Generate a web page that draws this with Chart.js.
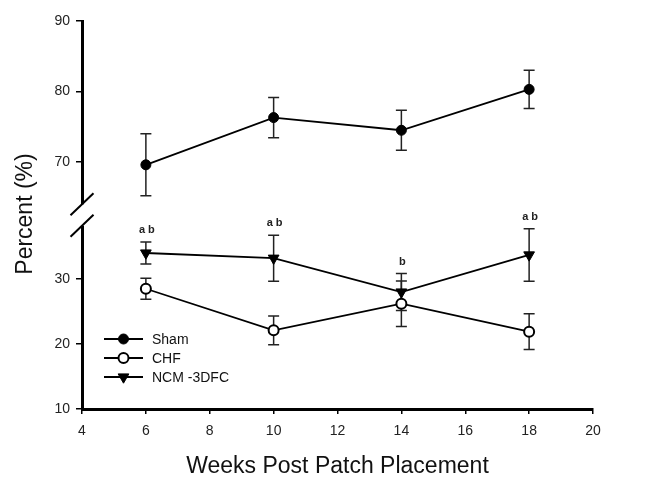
<!DOCTYPE html>
<html lang="en">
<head>
<meta charset="utf-8">
<title>Percent vs Weeks Post Patch Placement</title>
<script src="https://cdn.jsdelivr.net/npm/chart.js@4.4.1/dist/chart.umd.min.js"></script>
<style>
  html, body { margin: 0; padding: 0; background: #fff; }
</style>
</head>
<body>
<canvas id="mycanvas" width="647" height="478"></canvas>
<script>
// data
const weeks      = [6, 10, 14, 18];
const shamMean   = [69.6, 76.3, 74.5, 80.3];
const shamErr    = [4.4, 2.85, 2.85, 2.7];
const chfMean    = [28.5, 22.1, 26.2, 21.9];
const chfErr     = [1.6, 2.2, 3.5, 2.75];
const ncmMean    = [34.0, 33.2, 28.0, 33.7];
const ncmErr     = [1.7, 3.55, 2.85, 4.05];
const sigLabels  = ['a b', 'a b', 'b', 'a b'];   // over NCM-3DFC
const seriesNames = ['Sham', 'CHF', 'NCM -3DFC'];
const xTicks     = [4, 6, 8, 10, 12, 14, 16, 18, 20];
const upperTicks = [70, 80, 90];
const lowerTicks = [10, 20, 30];

const FONT = "'Liberation Sans', Arial, sans-serif";
const errSets = [shamErr, chfErr, ncmErr];

function pts(means) { return weeks.map((w, i) => ({x: w, y: means[i]})); }

// error bars, drawn under the markers
const errorBars = {
  id: 'errorBars',
  beforeDatasetsDraw(chart) {
    const ctx = chart.ctx, xs = chart.scales.x;
    ctx.save();
    ctx.strokeStyle = '#222';
    ctx.lineWidth = 1.5;
    chart.data.datasets.forEach((ds, k) => {
      const ys = chart.scales[ds.yAxisID];
      errSets[k].forEach((e, i) => {
        const px = xs.getPixelForValue(ds.data[i].x);
        const t = ys.getPixelForValue(ds.data[i].y + e);
        const b = ys.getPixelForValue(ds.data[i].y - e);
        ctx.beginPath();
        ctx.moveTo(px, t); ctx.lineTo(px, b);
        ctx.moveTo(px - 5.5, t); ctx.lineTo(px + 5.5, t);
        ctx.moveTo(px - 5.5, b); ctx.lineTo(px + 5.5, b);
        ctx.stroke();
      });
    });
    ctx.restore();
  },
  afterDatasetsDraw(chart) {
    // significance letters over NCM
    const ctx = chart.ctx, xs = chart.scales.x, ys = chart.scales.yBot;
    ctx.save();
    ctx.fillStyle = '#222';
    ctx.font = 'bold 11px ' + FONT;
    ctx.textAlign = 'center';
    ctx.textBaseline = 'middle';
    sigLabels.forEach((s, i) => {
      const px = xs.getPixelForValue(weeks[i]);
      const py = ys.getPixelForValue(ncmMean[i] + ncmErr[i]) - 12;
      ctx.fillText(s, px + 1, py);
    });
    ctx.restore();
  }
};

// axis break, y title and legend
const extras = {
  id: 'extras',
  afterDraw(chart) {
    const ctx = chart.ctx;
    const yT = chart.scales.yTop, yB = chart.scales.yBot;
    const ax = chart.chartArea.left;
    const upEnd = yT.getPixelForValue(64.0);
    const loStart = yB.getPixelForValue(38.2);
    ctx.save();
    ctx.fillStyle = '#fff';
    ctx.fillRect(ax - 4, upEnd, 8, loStart - upEnd);
    ctx.strokeStyle = '#000';
    ctx.lineWidth = 2;
    [upEnd, loStart].forEach(c => {
      ctx.beginPath();
      ctx.moveTo(ax - 11.5, c + 11);
      ctx.lineTo(ax + 11.5, c - 11);
      ctx.stroke();
    });

    // y title
    ctx.fillStyle = '#111';
    ctx.font = '23px ' + FONT;
    ctx.textAlign = 'center';
    ctx.textBaseline = 'middle';
    ctx.translate(26, 214);
    ctx.rotate(-Math.PI / 2);
    ctx.fillText('Percent (%)', 0, 0);
    ctx.restore();

    // legend
    ctx.save();
    const lx = ax + 22, ly0 = chart.chartArea.bottom - 70;
    chart.data.datasets.forEach((ds, k) => {
      const y = ly0 + k * 19;
      ctx.strokeStyle = '#000';
      ctx.lineWidth = 1.8;
      ctx.beginPath();
      ctx.moveTo(lx, y); ctx.lineTo(lx + 39, y);
      ctx.stroke();
      ctx.fillStyle = ds.pointBackgroundColor;
      ctx.strokeStyle = ds.pointBorderColor;
      ctx.lineWidth = ds.pointBorderWidth;
      Chart.helpers.drawPoint(ctx, {
        pointStyle: ds.pointStyle,
        radius: ds.pointRadius,
        rotation: ds.pointRotation || 0,
        borderWidth: ds.pointBorderWidth
      }, lx + 19.5, y);
      ctx.fillStyle = '#111';
      ctx.font = '14px ' + FONT;
      ctx.textAlign = 'left';
      ctx.textBaseline = 'middle';
      ctx.fillText(ds.label, lx + 48, y + 1);
    });
    ctx.restore();
  }
};

const common = {
  borderColor: '#000',
  borderWidth: 1.8,
  pointBorderColor: '#000',
  tension: 0,
  fill: false
};

var ctx_live = document.getElementById('mycanvas');
var myChart = new Chart(ctx_live, {
  type: 'line',
  data: {
    datasets: [
      Object.assign({}, common, {
        label: seriesNames[0], data: pts(shamMean), yAxisID: 'yTop',
        pointStyle: 'circle', pointRadius: 5, pointBackgroundColor: '#000', pointBorderWidth: 1
      }),
      Object.assign({}, common, {
        label: seriesNames[1], data: pts(chfMean), yAxisID: 'yBot',
        pointStyle: 'circle', pointRadius: 5, pointBackgroundColor: '#fff', pointBorderWidth: 2
      }),
      Object.assign({}, common, {
        label: seriesNames[2], data: pts(ncmMean), yAxisID: 'yBot',
        pointStyle: 'triangle', pointRotation: 180, pointRadius: 6.2,
        pointBackgroundColor: '#000', pointBorderWidth: 1
      })
    ]
  },
  options: {
    responsive: false,
    animation: false,
    layout: { padding: { top: 21, right: 54, left: 0, bottom: 0 } },
    plugins: {
      legend: { display: false },
      tooltip: { enabled: false }
    },
    scales: {
      x: {
        type: 'linear', min: 4, max: 20,
        afterBuildTicks: s => { s.ticks = xTicks.map(v => ({value: v})); },
        afterFit: s => { s.height = 69; },
        border: { color: '#000', width: 3 },
        grid: { drawOnChartArea: false, tickLength: 5, color: '#000', lineWidth: 1.5 },
        ticks: { color: '#222', font: { family: FONT, size: 14 }, padding: 9, maxRotation: 0 },
        title: {
          display: true, text: 'Weeks Post Patch Placement', color: '#111',
          font: { family: FONT, size: 23, lineHeight: 1 }, padding: { top: 8, bottom: 0 }
        }
      },
      yBot: {
        type: 'linear', position: 'left', stack: 'pct', stackWeight: 1,
        min: 10, max: 39.85,
        afterBuildTicks: s => { s.ticks = lowerTicks.map(v => ({value: v})); },
        afterFit: s => { s.width = 82; },
        border: { color: '#000', width: 3 },
        grid: { drawOnChartArea: false, tickLength: 6, color: '#000', lineWidth: 1.5 },
        ticks: { color: '#222', font: { family: FONT, size: 14 }, padding: 6 }
      },
      yTop: {
        type: 'linear', position: 'left', stack: 'pct', stackWeight: 1,
        min: 62.48, max: 90,
        afterBuildTicks: s => { s.ticks = upperTicks.map(v => ({value: v})); },
        afterFit: s => { s.width = 82; },
        border: { color: '#000', width: 3 },
        grid: { drawOnChartArea: false, tickLength: 6, color: '#000', lineWidth: 1.5 },
        ticks: { color: '#222', font: { family: FONT, size: 14 }, padding: 6 }
      }
    }
  },
  plugins: [errorBars, extras]
});
</script>
</body>
</html>
